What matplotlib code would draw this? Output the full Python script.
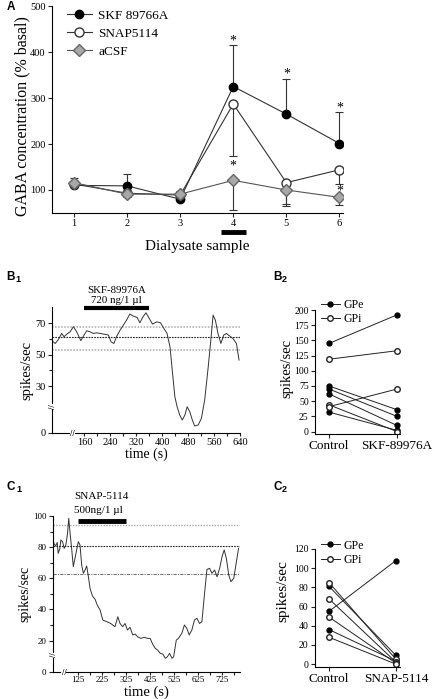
import numpy as np
import matplotlib.pyplot as plt

plt.rcParams['font.family'] = 'Liberation Serif'
plt.rcParams['axes.linewidth'] = 0.8
plt.rcParams['xtick.major.width'] = 0.8
plt.rcParams['ytick.major.width'] = 0.8
plt.rcParams['xtick.minor.width'] = 0.8
plt.rcParams['ytick.minor.width'] = 0.8

# ---- panel A data (GABA, % basal)
samples = [1, 2, 3, 4, 5, 6]
skf = [110, 109, 80, 325, 265, 201]
skf_up = [0, 25, 0, 90, 76, 69]
snap = [113, 93, 89, 287, 116, 144]
snap_up = [0, 0, 9, 0, 0, 0]
snap_dn = [0, 0, 0, 113, 47, 31]
acsf = [116, 91, 91, 121, 100, 84]
acsf_up = [11, 0, 0, 0, 0, 0]
acsf_dn = [0, 7, 0, 65, 35, 17]
star_x = [4, 4, 5, 6, 6]
star_y = [424, 152, 352, 278, 98]

# ---- panel B1 trace
b1_t = [59, 70, 80, 90, 97, 106, 116, 126, 136, 149, 159, 167, 177, 188, 198, 208,
        220, 234, 242, 251, 259, 270, 280, 290, 300, 311, 323, 331, 341, 350, 360,
        370, 383, 395, 405, 415, 424, 432, 439, 446, 454, 462, 470, 477, 485, 493,
        500, 511, 521, 531, 542, 550, 557, 564, 572, 581, 590, 598, 608, 618, 629, 637]
b1_rate = [59, 57.2, 59.8, 63.6, 61.5, 63.2, 64.7, 67.9, 64.7, 59, 62.6, 65.3, 64.7,
           63.6, 64, 63.6, 63.2, 62.6, 58.3, 57.2, 61.5, 65.7, 68.9, 72.1, 76, 74.7,
           73.8, 70.4, 74.3, 76.8, 73.2, 69.6, 71, 70.4, 66.8, 63.6, 55.1, 38, 23.2,
           16.8, 11.5, 8.3, 11.5, 16.8, 13.6, 8.3, 4.5, 5.1, 9.4, 21, 42.3, 59.4, 75.3,
           72.1, 63.6, 57.2, 62.6, 63.6, 62, 60.4, 57.2, 46.6]
b1_lines = [67.9, 61.1, 53.0]

# ---- panel B2
b2_gpe_ctrl = [145, 75, 70, 62, 32]
b2_gpe_drug = [192, 36, 25, 10, 2]
b2_gpi_ctrl = [119, 44, 41]
b2_gpi_drug = [133, 0, 70]

# ---- panel C1 trace
c1_t = [18, 23, 30, 37, 41, 48, 52, 59, 66, 73, 80, 85, 90, 97, 104, 111, 118, 125,
        132, 139, 146, 153, 160, 167, 174, 184, 195, 204, 216, 227, 244, 260, 278,
        290, 299, 310, 320, 330, 341, 352, 362, 372, 386, 400, 414, 425, 435, 446,
        456, 467, 478, 488, 497, 506, 516, 523, 534, 543, 557, 568, 578, 588, 599,
        610, 620, 631, 641, 652, 662, 673, 683, 694, 704, 715, 725, 734, 743, 753,
        762, 774, 785, 794]
c1_rate = [87.8, 82.4, 80.7, 83, 76, 79.2, 84.6, 83.5, 79.2, 81.4, 88.9, 98.5, 90,
           79.2, 67.5, 72.8, 78.2, 83.5, 81.4, 68.5, 63.2, 65.3, 67.9, 61, 53.5, 48.6,
           46.5, 42.8, 39.6, 33.2, 32.1, 31, 28.9, 35.3, 31, 28.9, 31, 26.8, 28.5,
           23.6, 24.2, 22.5, 21.4, 22.1, 21.4, 21.4, 17.8, 15, 13.9, 11.8, 11.3, 8.6,
           9.6, 11.8, 8.6, 9.6, 20.3, 21.4, 24.6, 30, 27.8, 23.6, 26.8, 33.2, 34.3, 31,
           32.1, 50.3, 65.7, 66.4, 63.2, 65.3, 61, 66.4, 73.9, 78.2, 72.8, 62.1, 57.8,
           60, 70.7, 79.2]
c1_lines = [94.0, 80.5, 62.5]

# ---- panel C2
c2_gpe_ctrl = [81, 55, 36]
c2_gpe_drug = [9, 108, 3]
c2_gpi_ctrl = [85, 68, 49, 28]
c2_gpi_drug = [5, 2, 1, 0]

W, H = 435, 699
fig = plt.figure(figsize=(W / 100, H / 100), dpi=100)


def px_axes(l, t, r, b):
    ax = fig.add_axes([l / W, 1 - b / H, (r - l) / W, (b - t) / H])
    ax.spines['top'].set_visible(False)
    ax.spines['right'].set_visible(False)
    ax.tick_params(direction='out', length=3, pad=1.5, color='#222')
    ax.tick_params(which='minor', direction='out', length=2, color='#222')
    return ax


def panel_label(x, y, main, sub=None):
    fig.text(x / W, 1 - y / H, main, fontsize=8.5, fontweight='bold',
             family='Liberation Sans', va='center', ha='left')
    if sub:
        fig.text((x + 9) / W, 1 - (y + 2) / H, sub, fontsize=6.5, fontweight='bold',
                 family='Liberation Sans', va='center', ha='left')


def brk(ax, x, y, rot):
    ax.text(x, y, '//', transform=ax.transData, fontsize=5, ha='center',
            va='center', rotation=rot, clip_on=False, family='DejaVu Sans',
            bbox=dict(fc='white', ec='none', pad=0.1))


# ================= A
axA = px_axes(52, 6, 343, 213)
axA.set_xlim(0.586, 6.066)
axA.set_ylim(50, 500)
axA.set_xticks(samples)
axA.set_yticks([100, 200, 300, 400, 500])
axA.tick_params(labelsize=7.5)

eb = dict(fmt='none', ecolor='#333', elinewidth=0.8, capsize=2.8, capthick=0.8, zorder=1)
for i in range(6):
    if skf_up[i]:
        axA.errorbar(samples[i], skf[i], yerr=[[0], [skf_up[i]]], **eb)
    if snap_up[i] or snap_dn[i]:
        axA.errorbar(samples[i], snap[i], yerr=[[snap_dn[i]], [snap_up[i]]], **eb)
    if acsf_up[i] or acsf_dn[i]:
        axA.errorbar(samples[i], acsf[i], yerr=[[acsf_dn[i]], [acsf_up[i]]], **eb)

h1, = axA.plot(samples, skf, '-o', color='#333', lw=0.8, ms=6, mfc='black', mec='black',
               zorder=3, label='SKF 89766A')
h2, = axA.plot(samples, snap, '-o', color='#333', lw=0.8, ms=6.5, mfc='white', mec='#333',
               zorder=4, label='SNAP5114')
h3, = axA.plot(samples, acsf, '-D', color='#555', lw=0.8, ms=6.3, mfc='#a8a8a8', mec='#666',
               zorder=5, label='aCSF')
for sx, sy in zip(star_x, star_y):
    axA.text(sx, sy, '*', ha='center', va='center', fontsize=10, zorder=6)

axA.plot([3.77, 4.23], [8.5, 8.5], color='black', lw=3.5, solid_capstyle='butt',
         clip_on=False)
axA.legend(handles=[h1, h2, h3], loc='upper left', bbox_to_anchor=(0.05, 0.982),
           frameon=False, fontsize=9.5, handlelength=1.95, handletextpad=0.45,
           labelspacing=0.42, borderpad=0, borderaxespad=0)
axA.set_ylabel('GABA concentration (% basal)', fontsize=11.5)
axA.yaxis.set_label_coords(-0.075, 0.47)
axA.set_xlabel('Dialysate sample', fontsize=11)
axA.xaxis.set_label_coords(0.5, -0.13)
panel_label(7, 7, 'A')

# ================= B1
axB1 = px_axes(52, 307, 240, 433)
axB1.set_xlim(60, 640)
axB1.set_ylim(0, 80.5)
axB1.set_xticks(np.arange(160, 641, 80))
axB1.set_xticks(np.arange(200, 601, 80), minor=True)
axB1.set_yticks([0, 30, 50, 70])
axB1.set_yticks([40, 60], minor=True)
axB1.tick_params(labelsize=7.5)
axB1.tick_params(axis='x', length=2.5, pad=1)
axB1.axhline(b1_lines[0], color='#aaa', lw=1.1, ls=(0, (1, 1)))
axB1.axhline(b1_lines[1], color='#222', lw=0.8, ls=(0, (1.5, 1)))
axB1.axhline(b1_lines[2], color='#aaa', lw=1.1, ls=(0, (1, 1)))
axB1.plot(b1_t, b1_rate, color='#333', lw=0.7)
axB1.plot([160, 360], [79.8, 79.8], color='black', lw=3, solid_capstyle='butt',
          clip_on=False)
axB1.text(260, 89.6, 'SKF-89976A', ha='center', va='baseline', fontsize=7.8, clip_on=False)
axB1.text(260, 83.0, '720 ng/1 µl', ha='center', va='baseline', fontsize=7.8, clip_on=False)
axB1.set_ylabel('spikes/sec', fontsize=10.5)
axB1.yaxis.set_label_coords(-0.1, 0.5)
axB1.set_xlabel('time (s)', fontsize=10)
axB1.xaxis.set_label_coords(0.5, -0.118)
brk(axB1, 123, 0, 0)
brk(axB1, 60, 17, 90)
panel_label(6, 277, 'B', '1')

# ================= B2
axB2 = px_axes(315, 310, 400, 434)
axB2.set_xlim(-0.206, 1.044)
axB2.set_ylim(-4, 200)
axB2.set_yticks(np.arange(0, 201, 25))
axB2.set_xticks([0, 1])
axB2.set_xticklabels(['Control', 'SKF-89976A'], fontsize=9.5)
axB2.tick_params(axis='y', labelsize=7)
for a, b in zip(b2_gpe_ctrl, b2_gpe_drug):
    axB2.plot([0, 1], [a, b], '-o', color='#222', lw=0.7, ms=3.5, mfc='black', mec='black')
for a, b in zip(b2_gpi_ctrl, b2_gpi_drug):
    axB2.plot([0, 1], [a, b], '-o', color='#222', lw=0.7, ms=4, mfc='white', mec='#222')
gpe_h, = axB2.plot([], [], '-o', color='#222', lw=0.7, ms=3.5, mfc='black', mec='black')
gpi_h, = axB2.plot([], [], '-o', color='#222', lw=0.7, ms=4, mfc='white', mec='#222')
axB2.legend([gpe_h, gpi_h], ['GPe', 'GPi'], loc='upper left', bbox_to_anchor=(0.07, 1.09),
            frameon=False, fontsize=8.5, handlelength=1.6, handletextpad=0.35,
            labelspacing=0.2, borderpad=0, borderaxespad=0)
axB2.set_ylabel('spikes/sec', fontsize=10.5)
axB2.yaxis.set_label_coords(-0.25, 0.53)
panel_label(273, 277, 'B', '2')

# ================= C1
axC1 = px_axes(52.7, 516, 240, 671.7)
axC1.set_xlim(18, 800)
axC1.set_ylim(0, 100)
axC1.set_xticks(np.arange(125, 726, 100))
axC1.set_xticks(np.arange(175, 776, 100), minor=True)
axC1.set_yticks(np.arange(0, 101, 20))
axC1.set_yticks(np.arange(10, 91, 20), minor=True)
axC1.tick_params(labelsize=6.5)
axC1.tick_params(axis='x', length=2.5, pad=0.8)
axC1.axhline(c1_lines[0], color='#aaa', lw=1.0, ls=(0, (1, 1)))
axC1.axhline(c1_lines[1], color='#222', lw=0.8, ls=(0, (1.5, 1)))
axC1.axhline(c1_lines[2], color='#777', lw=0.8, ls=(0, (3, 1, 1, 1)))
axC1.plot(c1_t, c1_rate, color='#333', lw=0.7)
axC1.plot([125, 325], [97, 97], color='black', lw=3.5, solid_capstyle='butt')
axC1.text(107, 110.8, 'SNAP-5114', ha='left', va='baseline', fontsize=8, clip_on=False)
axC1.text(107, 101.8, '500ng/1 µl', ha='left', va='baseline', fontsize=8, clip_on=False)
axC1.set_ylabel('spikes/sec', fontsize=10)
axC1.yaxis.set_label_coords(-0.115, 0.5)
axC1.set_xlabel('time (s)', fontsize=10.5)
axC1.xaxis.set_label_coords(0.5, -0.087)
brk(axC1, 65, 0, 0)
brk(axC1, 18, 10.7, 90)
panel_label(7, 487, 'C', '1')

# ================= C2
axC2 = px_axes(315, 549, 400, 667)
axC2.set_xlim(-0.21, 1.06)
axC2.set_ylim(-3, 120)
axC2.set_yticks(np.arange(0, 121, 20))
axC2.set_xticks([0, 1])
axC2.set_xticklabels(['Control', 'SNAP-5114'], fontsize=9.5)
axC2.tick_params(axis='y', labelsize=7)
for a, b in zip(c2_gpe_ctrl, c2_gpe_drug):
    axC2.plot([0, 1], [a, b], '-o', color='#222', lw=0.7, ms=3.5, mfc='black', mec='black')
for a, b in zip(c2_gpi_ctrl, c2_gpi_drug):
    axC2.plot([0, 1], [a, b], '-o', color='#222', lw=0.7, ms=4, mfc='white', mec='#222')
gpe_h, = axC2.plot([], [], '-o', color='#222', lw=0.7, ms=3.5, mfc='black', mec='black')
gpi_h, = axC2.plot([], [], '-o', color='#222', lw=0.7, ms=4, mfc='white', mec='#222')
axC2.legend([gpe_h, gpi_h], ['GPe', 'GPi'], loc='upper left', bbox_to_anchor=(0.07, 1.08),
            frameon=False, fontsize=8.5, handlelength=1.6, handletextpad=0.35,
            labelspacing=0.2, borderpad=0, borderaxespad=0)
axC2.set_ylabel('spikes/sec', fontsize=11)
axC2.yaxis.set_label_coords(-0.3, 0.64)
panel_label(273, 487, 'C', '2')

fig.savefig('out.png', dpi=100)
